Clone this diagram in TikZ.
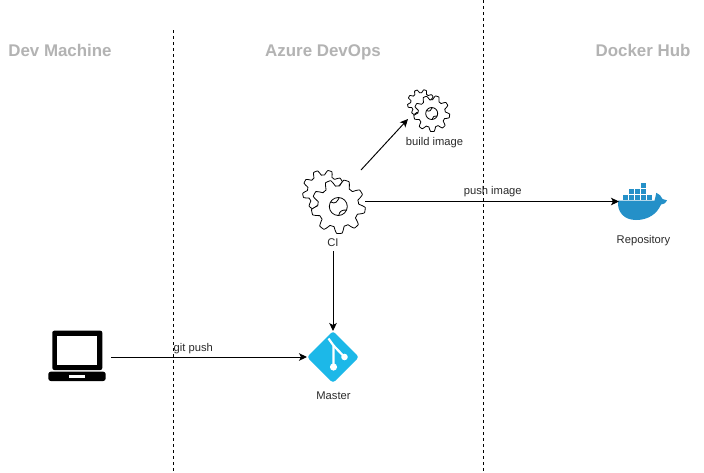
\documentclass[tikz,border=0pt]{standalone}
\usepackage{fontspec}
\setmainfont{Liberation Sans}
\usetikzlibrary{arrows.meta,shapes.geometric}
\definecolor{gitblue}{HTML}{1CB8E8}
\definecolor{dockerblue}{HTML}{2490C8}
\definecolor{headgray}{HTML}{B3B3B3}
\definecolor{labelgray}{HTML}{2B2B2B}
\tikzset{
  lane/.style={draw=black,dashed,dash pattern=on 3pt off 3pt,line width=0.9pt},
  conn/.style={draw=black,line width=0.95pt,-{Stealth[length=8pt,width=7.5pt,inset=2pt]}},
  head/.style={font=\fontsize{16.9}{18}\selectfont\bfseries,text=headgray,inner sep=0pt,anchor=base},
  lbl/.style={font=\fontsize{11.2}{13}\selectfont,text=labelgray,inner sep=0pt,anchor=base},
  box/.style={draw=none,inner sep=0pt,outer sep=0pt},
  gearline/.style={draw=black,fill=white,line width=0.8pt,line join=round},
  whale/.style={fill=dockerblue,draw=none},
  crate/.style={fill=dockerblue,draw=none}
}
% gear: cx, cy, outer radius, hub radius (0 = none)
\newcommand{\gearshape}[4]{%
  \draw[gearline] plot[domain=0:359,samples=360,variable=\t]
    ({#1+#3*(0.88+0.12*max(-1,min(1,1.6*sin(9*\t+20))))*cos(\t)},{#2+#3*(0.88+0.12*max(-1,min(1,1.6*sin(9*\t+20))))*sin(\t)}) -- cycle;
  \ifdim #4pt>0pt
    \draw[gearline] (#1,#2) circle (#4);
    \draw[black,line width=0.8pt] ({#1-#4*0.85},{#2-#4*0.5}) .. controls ({#1-#4*0.3},{#2-#4*0.2}) and ({#1-#4*0.1},{#2-#4*0.6}) .. ({#1+#4*0.1},{#2-#4*0.98});
    \draw[black,line width=0.8pt] ({#1+#4*0.05},{#2+#4*0.98}) .. controls ({#1+#4*0.1},{#2+#4*0.5}) and ({#1+#4*0.5},{#2+#4*0.35}) .. ({#1+#4*0.9},{#2+#4*0.4});
  \fi}
\begin{document}
\begin{tikzpicture}[x=1pt,y=-1pt]
\useasboundingbox (0,0) rectangle (704,472);
\fill[white] (0,0) rectangle (704,472);
% lanes
\coordinate (l1t) at (173,30); \coordinate (l1b) at (173,472);
\coordinate (l2t) at (483,0); \coordinate (l2b) at (483,472);
\draw[lane] (l1t) -- (l1b);
\draw[lane] (l2t) -- (l2b);
% headers
\node[head] (h1) at (60,56.5) {Dev Machine};
\node[head] (h2) at (323,56.5) {Azure DevOps};
\node[head] (h3) at (643,56.5) {Docker Hub};
% laptop
\node[box,minimum width=63pt,minimum height=52pt] (laptop) at (79.5,357) {};
\fill[black,rounded corners=2pt] (52.3,330.7) rectangle (102.3,370);
\fill[white] (57.3,336) rectangle (97.3,365);
\fill[black,rounded corners=2.5pt] (48.3,371.7) rectangle (105.7,381);
\fill[white] (69,375) rectangle (84.5,377.5);
% master
\node[diamond,aspect=1,fill=gitblue,rounded corners=3pt,minimum size=52pt,inner sep=0pt,outer sep=0pt] (master) at (333,357) {};
\draw[white,line width=2.2pt] (328.5,338.5) -- (333.5,345.5) -- (333.5,366);
\draw[white,line width=2.2pt] (333.5,345.5) -- (344,356.5);
\fill[white] (333.5,367) circle (3.6);
\fill[white] (344.5,357) circle (3.3);
\node[lbl] (masterl) at (333.5,399) {Master};
% gears CI
\node[box,minimum width=64pt,minimum height=62pt] (ci) at (333,201.5) {};
\gearshape{323.5}{191}{21}{0}
\gearshape{338.3}{206.5}{27}{9}
\node[lbl] (cil) at (333,246) {CI};
% gears build
\node[box,minimum width=48pt,minimum height=31pt] (build) at (432,103.5) {};
\gearshape{421}{103}{13.5}{0}
\gearshape{431.7}{113.5}{18}{6}
\node[lbl] (buildl) at (434.5,145) {build image};
% docker
\node[box,minimum width=48pt,minimum height=40pt] (repo) at (643,201.5) {};
\foreach \cx/\cy in {643.6/185.5,
  631.4/191.4,637.4/191.4,643.6/191.4,
  625.4/197.2,631.4/197.2,637.4/197.2,643.6/197.2,649.6/197.2}{
  \fill[crate] (\cx-2.8,\cy-2.6) rectangle (\cx+2.8,\cy+2.6);
}
\fill[whale] (618,200.7) -- (654.5,200.7) .. controls (655.5,198) and (655.5,195.5) .. (656.3,192.8)
  .. controls (659,194) and (661.5,196) .. (662.5,199) .. controls (664,199) and (665.5,199.3) .. (667,200.3)
  .. controls (665.5,203.5) and (663,204.5) .. (661,204.5) .. controls (657,214) and (648,220) .. (636,220)
  .. controls (624,220) and (617,212) .. (618,200.7) -- cycle;
\node[lbl] (repol) at (643.5,243) {Repository};
% connector free end
\coordinate (ciNE) at (361,170);
% connectors
\draw[conn] (laptop.east) -- (master.west) node[lbl,pos=0.42,yshift=6pt] (gitl) {git push};
\draw[conn] (cil.south) ++(0,5) -- (master.north);
\draw[conn] (ciNE) -- (build.south west);
\draw[conn] (ci.east) -- (repo.west) node[lbl,pos=0.503,yshift=7pt] (pushl) {push image};
\end{tikzpicture}
\end{document}
